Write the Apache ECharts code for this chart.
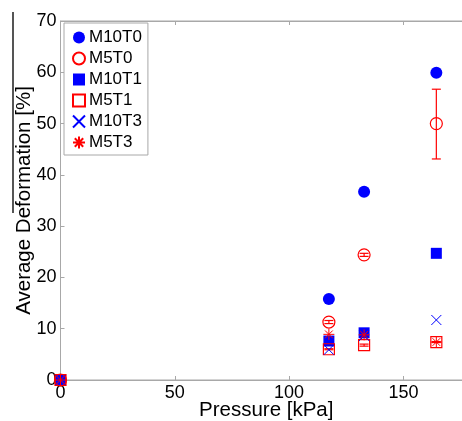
<!DOCTYPE html>
<html>
<head>
<meta charset="utf-8">
<script src="https://cdn.jsdelivr.net/npm/echarts@6/dist/echarts.min.js"></script>
<style>html,body{margin:0;padding:0;background:#fff}#c{width:462px;height:421px}</style>
</head>
<body>
<div id="c"></div>
<script>
var pressure = [0, 117.4, 132.8, 164.4];
var M10T0 = [0, 15.8, 36.7, 59.9];
var M5T0 = [0, 11.3, 24.4, 50.0];
var M10T1 = [0, 7.6, 9.2, 24.7];
var M5T1 = [0, 6.0, 6.8, 7.4];
var M10T3 = [0, 5.9, 8.6, 11.7];
var M5T3 = [0, 8.9, 8.8, 7.4];
var M5T0Low = [0, 11.0, 24.1, 43.1];
var M5T0High = [0, 11.6, 24.7, 56.7];
var M5T1Low = [0, 5.9, 6.6, 7.3];
var M5T1High = [0, 6.1, 7.0, 7.5];
var xTicks = [0, 50, 100, 150];
var yTicks = [0, 10, 20, 30, 40, 50, 60, 70];

var FONT = 'Liberation Sans, Arial, sans-serif';
var BLUE = '#0000ff', RED = '#ff0000', AX = '#a8a8a8';

function pts(ys) { return pressure.map(function (x, i) { return [x, ys[i]]; }); }
function errs(lo, hi) { return pressure.map(function (x, i) { return [x, lo[i], hi[i]]; }); }

function errSeries(lo, hi) {
  return {
    type: 'custom', silent: true, z: 1,
    data: errs(lo, hi),
    encode: { x: 0, y: [1, 2] },
    renderItem: function (params, api) {
      var x = api.value(0);
      var a = api.coord([x, api.value(1)]);
      var b = api.coord([x, api.value(2)]);
      var w = 4.5;
      var st = { stroke: RED, lineWidth: 1.2 };
      return { type: 'group', children: [
        { type: 'line', shape: { x1: a[0], y1: a[1], x2: b[0], y2: b[1] }, style: st },
        { type: 'line', shape: { x1: a[0] - w, y1: a[1], x2: a[0] + w, y2: a[1] }, style: st },
        { type: 'line', shape: { x1: b[0] - w, y1: b[1], x2: b[0] + w, y2: b[1] }, style: st }
      ] };
    }
  };
}

var chart = echarts.init(document.getElementById('c'), null, { renderer: 'canvas' });
chart.setOption({
  animation: false,
  backgroundColor: '#fff',
  textStyle: { fontFamily: FONT },
  grid: { left: 60.5, top: 21, right: -10, bottom: 41, outerBoundsMode: 'none', containLabel: false, show: true, borderColor: AX, borderWidth: 1, backgroundColor: 'transparent' },
  xAxis: [{
    type: 'value', min: 0, max: 180, interval: 50,
    name: 'Pressure [kPa]', nameLocation: 'middle', nameGap: 20, nameMoveOverlap: false,
    nameTextStyle: { fontSize: 20.5, color: '#000', fontFamily: FONT },
    axisLine: { show: true, lineStyle: { color: AX } },
    axisTick: { show: true, inside: true, length: 4, lineStyle: { color: AX } },
    axisLabel: { fontSize: 18, color: '#000', margin: 4, showMaxLabel: false, fontFamily: FONT },
    splitLine: { show: false }
  }, {
    type: 'value', position: 'top', min: 0, max: 180, interval: 50,
    axisLine: { show: true, lineStyle: { color: AX } },
    axisTick: { show: true, inside: true, length: 4, lineStyle: { color: AX } },
    axisLabel: { show: false },
    splitLine: { show: false }
  }],
  yAxis: {
    type: 'value', min: 0, max: 70, interval: 10,
    name: 'Average Deformation [%]', nameLocation: 'middle', nameGap: 26, nameMoveOverlap: false,
    nameTextStyle: { fontSize: 20.5, color: '#000', fontFamily: FONT },
    axisLine: { show: true, lineStyle: { color: AX } },
    axisTick: { show: true, inside: true, length: 4, lineStyle: { color: AX } },
    axisLabel: { fontSize: 18, color: '#000', margin: 4, fontFamily: FONT },
    splitLine: { show: false }
  },
  legend: {
    orient: 'vertical', left: 64, top: 23,
    data: ['M10T0', 'M5T0', 'M10T1', 'M5T1', 'M10T3', 'M5T3'],
    backgroundColor: '#fff', borderColor: AX, borderWidth: 1,
    padding: [6, 6, 4, 8], itemGap: 4, itemWidth: 12, itemHeight: 12,
    textStyle: { fontSize: 17, color: '#000', fontFamily: FONT, padding: [0, 0, 0, -1] }
  },
  graphic: [{ type: 'line', shape: { x1: 13, y1: 12, x2: 13, y2: 213 }, style: { stroke: '#555', lineWidth: 2 }, z: 100 }],
  series: [
    { name: 'M10T0', type: 'scatter', data: pts(M10T0), symbol: 'circle', symbolSize: 12, itemStyle: { color: BLUE, opacity: 1 }, z: 2 },
    errSeries(M5T0Low, M5T0High),
    { name: 'M5T0', type: 'scatter', data: pts(M5T0), symbol: 'circle', symbolSize: 12, itemStyle: { color: 'rgba(0,0,0,0)', borderColor: RED, borderWidth: 1.2, opacity: 1 }, z: 3 },
    { name: 'M10T1', type: 'scatter', data: pts(M10T1), symbol: 'rect', symbolSize: 11, itemStyle: { color: BLUE, opacity: 1 }, z: 2 },
    errSeries(M5T1Low, M5T1High),
    { name: 'M5T1', type: 'scatter', data: pts(M5T1), symbol: 'rect', symbolSize: 11, itemStyle: { color: 'rgba(0,0,0,0)', borderColor: RED, borderWidth: 1.2, opacity: 1 }, z: 3 },
    { name: 'M10T3', type: 'scatter', data: pts(M10T3), symbol: 'path://M0,0L10,10M10,0L0,10', symbolSize: 10, itemStyle: { color: 'rgba(0,0,0,0)', borderColor: BLUE, borderWidth: 1, opacity: 1 }, z: 4 },
    { name: 'M5T3', type: 'scatter', data: pts(M5T3), symbol: 'path://M5,0L5,10M0,5L10,5M1.5,1.5L8.5,8.5M8.5,1.5L1.5,8.5', symbolSize: 11, itemStyle: { color: 'rgba(0,0,0,0)', borderColor: RED, borderWidth: 1, opacity: 1 }, z: 4 }
  ]
});
</script>
</body>
</html>
